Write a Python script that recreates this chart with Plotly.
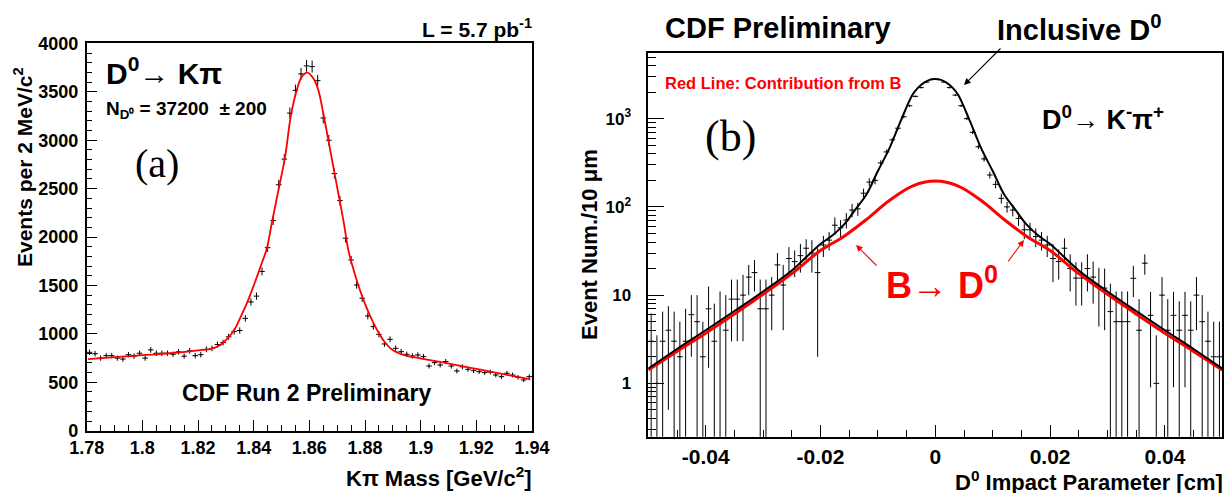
import numpy as np
import plotly.graph_objects as go

W, H = 1228, 493
SANS = "Liberation Sans"
SERIF = "Liberation Serif"

# ---------------- Left panel: K-pi mass ----------------
mass_bins = [round(1.781 + 0.002 * i, 3) for i in range(80)]
mass_counts = [810, 795, 750, 775, 775, 750, 740, 785, 770, 800,
               750, 835, 800, 800, 800, 790, 815, 770, 825, 775,
               785, 840, 850, 890, 910, 970, 1025, 1035, 1160, 1330,
               1390, 1645,
               1890, 2170, 2540, 2805, 3280, 3515, 3685, 3768, 3760, 3615,
               3230, 3000, 2655, 2376, 1988,
               1763, 1505, 1368, 1185, 1075, 995, 896, 944, 851, 816,
               789, 772, 782, 765, 668, 703, 679, 714, 668, 617,
               660, 634, 620, 610, 600, 606, 575, 558, 593, 575,
               551, 524, 558]
mass_err = list(np.sqrt(mass_counts))

fit_x = [1.7805, 1.79, 1.80, 1.81, 1.82, 1.825, 1.828, 1.8305, 1.833, 1.8354,
         1.8379, 1.8404, 1.8429, 1.8447, 1.8465, 1.8489, 1.8513, 1.8533, 1.8555,
         1.8573, 1.8593, 1.8614, 1.8632, 1.865, 1.8668, 1.8686, 1.8704, 1.8722,
         1.874, 1.8755, 1.8775, 1.88, 1.8825, 1.885, 1.8874, 1.8899, 1.8948,
         1.8998, 1.9097, 1.922, 1.9344, 1.9394]
fit_y = [740, 760, 780, 800, 830, 848, 885, 950, 1040, 1180,
         1340, 1530, 1730, 1880, 2142, 2487, 2831, 3244, 3520,
         3657, 3698, 3640, 3520, 3279, 3003, 2727, 2452, 2177,
         1867, 1700, 1510, 1310, 1144, 1006, 903, 834, 775,
         748, 696, 627, 558, 530]

mass_tickvals = [1.78, 1.80, 1.82, 1.84, 1.86, 1.88, 1.90, 1.92, 1.94]
mass_ticktext = ["1.78", "1.8", "1.82", "1.84", "1.86", "1.88", "1.9", "1.92", "1.94"]
count_tickvals = [0, 500, 1000, 1500, 2000, 2500, 3000, 3500, 4000]
count_ticktext = ["0", "500", "1000", "1500", "2000", "2500", "3000", "3500", "4000"]

# ---------------- Right panel: impact parameter ----------------
ip_bins = [round(-0.0495 + 0.001 * i, 4) for i in range(100)]
ip_counts = [3, 1, 3, 4, 3, 2, 3, 6, 5, 2,
             7, 3, 5, 4, 9, 9, 10, 16, 18, 7,
             7, 10, 22, 13, 26, 24, 28, 34, 30, 18,
             37, 42, 62, 58, 71, 92, 95, 143, 191, 200,
             315, 420, 575, 780, 1050, 1400, 1790, 2250, 2600, 2800,
             2780, 2600, 2250, 1850, 1400, 1000, 700, 480, 350, 230,
             180, 125, 100, 92, 74, 55, 55, 46, 42, 37,
             26, 24, 34, 20, 15.6, 15.6, 20, 16, 12.4, 12,
             6.5, 5, 5, 5, 15.5, 4, 23, 5.9, 1, 10,
             4, 5.9, 4, 5.9, 4, 10, 5, 3, 2, 2]
ip_errors = [3.2, 2.5, 3.5, 3.5, 3.5, 3, 4, 4, 5, 3,
             5.5, 5, 6, 6, 6, 6, 7, 6, 7, 8,
             8, 6, 8, 9, 9, 8, 10, 9, 12, 16,
             10, 10, 14, 13, 14, 16, 16, 18, 20, 20,
             24, 27, 30, 34, 38, 42, 46, 50, 54, 56,
             56, 54, 50, 46, 42, 38, 32, 28, 24, 20,
             18, 16, 14, 14, 13, 12, 11, 11, 10, 10,
             12, 9, 10, 9, 8, 8, 9, 8, 8, 8,
             7, 6, 6, 6, 6, 5, 6, 5, 2.5, 6,
             5, 5, 4.5, 5, 4.5, 6, 5, 3.5, 3, 3]

incl_x = [-0.05, -0.045, -0.04, -0.035, -0.03, -0.025, -0.02, -0.018, -0.016, -0.014,
          -0.012, -0.01, -0.008, -0.006, -0.004, -0.003, -0.002, -0.001, 0.0,
          0.001, 0.002, 0.003, 0.004, 0.006, 0.008, 0.01, 0.012, 0.014, 0.016,
          0.018, 0.02, 0.025, 0.03, 0.035, 0.04, 0.045, 0.05]
incl_y = [1.47, 2.45, 4.0, 6.6, 11, 19, 38, 47, 62, 92,
          138, 255, 460, 950, 1850, 2250, 2550, 2750, 2820,
          2750, 2550, 2250, 1850, 950, 460, 255, 138, 92, 62,
          47, 38, 19, 11, 6.6, 4.0, 2.45, 1.47]

b_x = [-0.05, -0.045, -0.04, -0.035, -0.03, -0.025, -0.02, -0.016, -0.012, -0.008,
       -0.004, 0.0, 0.004, 0.008, 0.012, 0.016, 0.02, 0.025, 0.03, 0.035,
       0.04, 0.045, 0.05]
b_y = [1.42, 2.3, 3.7, 6.1, 10.2, 17.5, 32, 46, 72, 118,
       172, 196, 172, 118, 72, 46, 32, 17.5, 10.2, 6.1,
       3.7, 2.3, 1.42]

ip_tickvals = [-0.04, -0.02, 0, 0.02, 0.04]
ip_ticktext = ["-0.04", "-0.02", "0", "0.02", "0.04"]
ev_tickvals = [1, 10, 100, 1000]
ev_ticktext = ["1", "10", "10<sup>2</sup>", "10<sup>3</sup>"]
ev_minor = [m * 10 ** d for d in range(-1, 4) for m in range(2, 10)]

fig = go.Figure()

# left
fig.add_trace(go.Scatter(
    x=mass_bins, y=mass_counts, mode="markers",
    marker=dict(size=1, color="black"),
    error_y=dict(type="data", array=mass_err, color="black", thickness=1, width=0),
    error_x=dict(type="constant", value=0.001, color="black", thickness=1, width=0),
    xaxis="x", yaxis="y", showlegend=False))
fig.add_trace(go.Scatter(
    x=fit_x, y=fit_y, mode="lines", line=dict(color="#ff0000", width=1.8, shape="spline"),
    xaxis="x", yaxis="y", showlegend=False))

# right
fig.add_trace(go.Scatter(
    x=ip_bins, y=ip_counts, mode="markers",
    marker=dict(size=1, color="black"),
    error_y=dict(type="data", array=ip_errors, color="black", thickness=1, width=0),
    error_x=dict(type="constant", value=0.0005, color="black", thickness=1, width=0),
    xaxis="x2", yaxis="y2", showlegend=False))
fig.add_trace(go.Scatter(
    x=b_x, y=b_y, mode="lines", line=dict(color="#ff0000", width=3, shape="spline"),
    xaxis="x2", yaxis="y2", showlegend=False))
fig.add_trace(go.Scatter(
    x=incl_x, y=incl_y, mode="lines", line=dict(color="black", width=2, shape="spline"),
    xaxis="x2", yaxis="y2", showlegend=False))

tickfont = dict(family=SANS, size=18, color="black", weight="bold")
axis_common = dict(showline=True, linecolor="black", linewidth=1.5, mirror=True,
                   ticks="inside", tickcolor="black", showgrid=False, zeroline=False,
                   automargin=False)

fig.update_layout(
    width=W, height=H,
    margin=dict(l=0, r=0, t=0, b=0, pad=0, autoexpand=False),
    paper_bgcolor="white", plot_bgcolor="white",
    xaxis=dict(domain=[86.7 / W, 532 / W], anchor="y", range=[1.78, 1.94],
               tickvals=mass_tickvals, ticktext=mass_ticktext, ticklen=11, tickwidth=1.2,
               tickfont=tickfont, ticklabelstandoff=0,
               minor=dict(ticks="inside", dtick=0.005, tick0=1.78, ticklen=6, tickcolor="black"),
               **axis_common),
    yaxis=dict(domain=[1 - 430.7 / H, 1 - 43.4 / H], anchor="x", range=[0, 4000],
               tickvals=count_tickvals, ticktext=count_ticktext, ticklen=11, tickwidth=1.2,
               tickfont=tickfont, ticklabelstandoff=3,
               minor=dict(ticks="inside", dtick=100, tick0=0, ticklen=6, tickcolor="black"),
               **axis_common),
    xaxis2=dict(domain=[648.3 / W, 1222.3 / W], anchor="y2", range=[-0.05, 0.05],
                tickvals=ip_tickvals, ticktext=ip_ticktext, ticklen=12, tickwidth=1.2,
                tickfont=dict(family=SANS, size=21, color="black", weight="bold"),
                ticklabelstandoff=0,
                minor=dict(ticks="inside", dtick=0.005, tick0=0, ticklen=7, tickcolor="black"),
                **axis_common),
    yaxis2=dict(domain=[1 - 436.7 / H, 1 - 53.3 / H], anchor="x2", type="log",
                range=[-0.605, 3.741],
                tickvals=ev_tickvals, ticktext=ev_ticktext, ticklen=16, tickwidth=1.2,
                tickfont=dict(family=SANS, size=17, color="black", weight="bold"),
                ticklabelstandoff=12,
                minor=dict(ticks="inside", tickvals=ev_minor, ticklen=8, tickcolor="black"),
                **axis_common),
)


def ann(text, px, py, size, color="black", xanchor="center", family=SANS,
        bold=True, angle=0):
    fig.add_annotation(
        text=text, xref="paper", yref="paper", x=px / W, y=1 - py / H,
        xanchor=xanchor, yanchor="middle", showarrow=False, textangle=angle,
        borderpad=0,
        font=dict(family=family, size=size, color=color,
                  weight="bold" if bold else "normal"))


def arrow(hx, hy, tx, ty, color):
    fig.add_annotation(
        text="", xref="paper", yref="paper", x=hx / W, y=1 - hy / H,
        ax=tx - hx, ay=ty - hy, axref="pixel", ayref="pixel",
        showarrow=True, arrowhead=2, arrowsize=1.2, arrowwidth=1.1, arrowcolor=color)


NB = "\u00a0"
# left texts
ann("L = 5.7 pb<sup>-1</sup>", 533, 28, 21, xanchor="right")
ann("D<sup>0</sup>\u2192 K\u03c0", 105, 71, 30, xanchor="left")
ann("N<sub>D\u2070</sub> = 37200" + NB + NB + "\u00b1 200", 105, 110, 19, xanchor="left")
ann("(a)", 157, 163, 40, family=SERIF, bold=False)
ann("CDF Run 2 Preliminary", 306, 393, 23)
ann("Events per 2 MeV/c<sup>2</sup>", 23, 167, 21, angle=-90)
ann("K\u03c0 Mass [GeV/c<sup>2</sup>]", 533, 477, 22, xanchor="right")

# right texts
ann("CDF Preliminary", 778, 28, 29)
ann("Inclusive D<sup>0</sup>", 1079, 28, 29)
arrow(964, 85, 1002, 47, "black")
ann("Red Line: Contribution from B", 664, 83, 16.5, color="#ff0000", xanchor="left")
ann("(b)", 730, 137, 44, family=SERIF, bold=False)
ann("D<sup>0</sup>\u2192 K<sup>-</sup>\u03c0<sup>+</sup>", 1103, 118, 27)
ann("B\u2192 D<sup>0</sup>", 942, 283, 36, color="#ff0000")
arrow(856, 245, 878, 267, "#ff0000")
arrow(1024, 240, 1007, 263, "#ff0000")
ann("Event Num./10 \u03bcm", 589, 245, 22, angle=-90)
ann("D<sup>0</sup> Impact Parameter [cm]", 1224, 481, 22, xanchor="right")

fig.write_html("out.html")
